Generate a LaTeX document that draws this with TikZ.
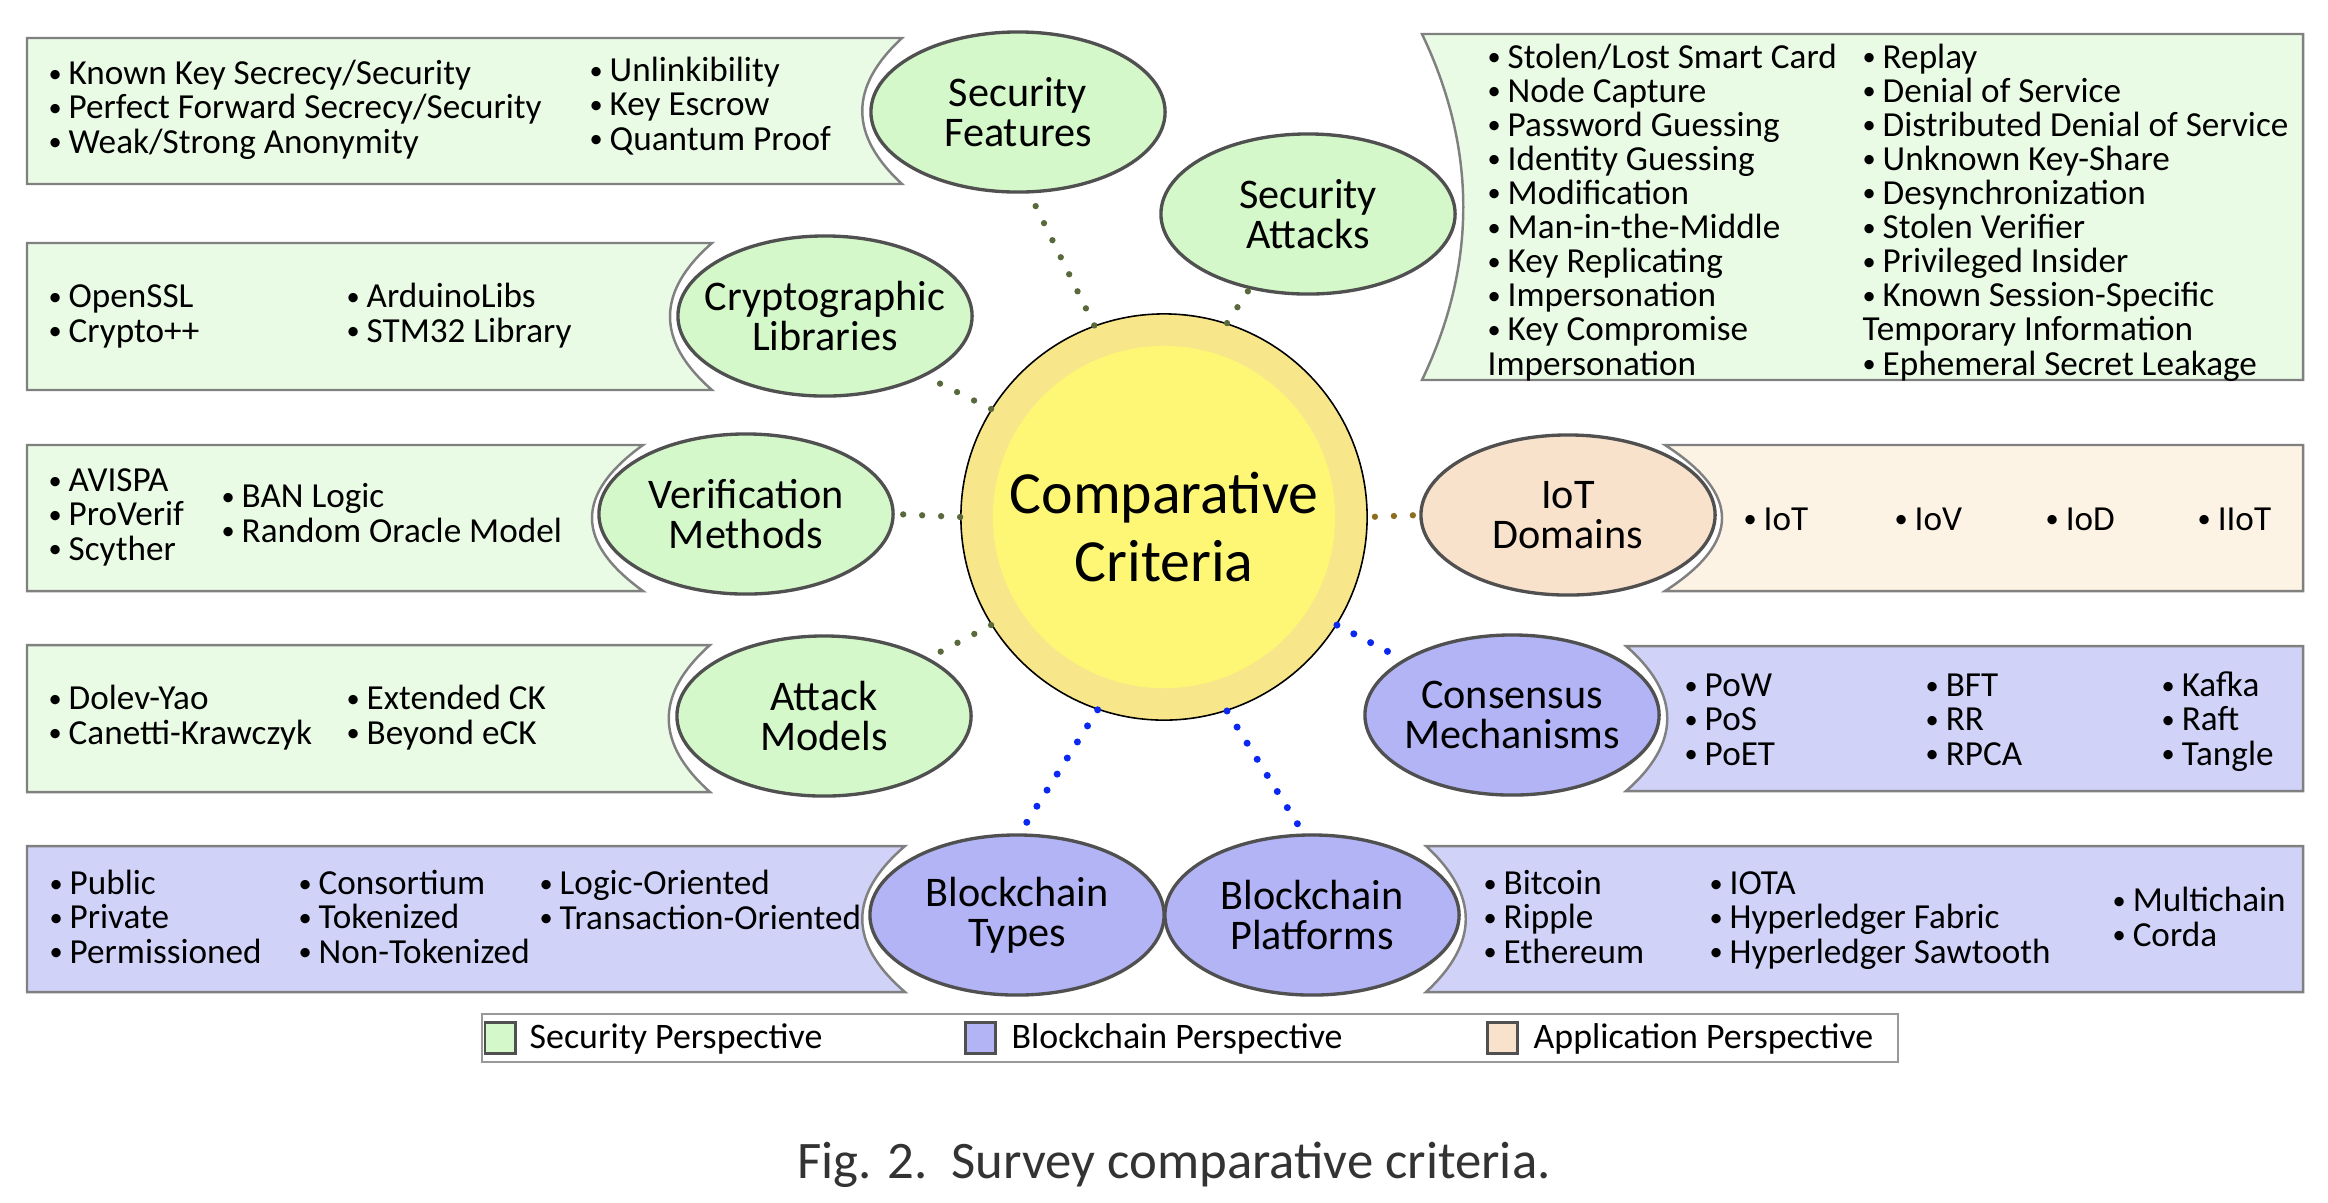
\documentclass[tikz,border=0pt]{standalone}
\usepackage{fontspec}
\setmainfont{Carlito}
\usetikzlibrary{shapes.geometric}

\definecolor{secfill}{HTML}{D4F8CA}
\definecolor{secbox}{HTML}{EAFBE5}
\definecolor{bcfill}{HTML}{B2B4F5}
\definecolor{bcbox}{HTML}{D0D2F8}
\definecolor{appfill}{HTML}{F9E2CC}
\definecolor{appbox}{HTML}{FDF3E5}
\definecolor{ringyel}{HTML}{F8E68A}
\definecolor{coreyel}{HTML}{FDF775}
\definecolor{ringgray}{HTML}{505050}
\definecolor{boxgray}{HTML}{808080}
\definecolor{secdot}{HTML}{5A693C}
\definecolor{appdot}{HTML}{8C6E1E}
\definecolor{bcdot}{HTML}{0A28F0}

\newcommand{\blt}{\makebox[0.2cm][l]{\raisebox{0.7pt}{\fontsize{7.5}{7.5}\selectfont\textbullet}}}

\begin{document}
\begin{tikzpicture}[x=0.01cm, y=-0.01cm,
	crit/.style={ellipse, draw=ringgray, line width=0.95pt, minimum width=2.94cm, minimum height=1.6cm, inner sep=0pt},
	critlbl/.style={align=center, inner sep=0pt, font=\fontsize{12}{11.4}\selectfont},
	listbox/.style={draw=boxgray, line width=0.7pt},
	items/.style={anchor=base west, align=left, inner sep=0pt, font=\fontsize{10}{9.7}\selectfont},
	link/.style={line width=1.8pt, line cap=round, dash pattern=on 0pt off 5.4pt},
	legsq/.style={draw=ringgray, line width=0.85pt, minimum width=0.3cm, minimum height=0.31cm, inner sep=0pt},
	legtxt/.style={anchor=base west, inner sep=0pt, font=\fontsize{10.2}{12}\selectfont}]
	\useasboundingbox (0,0) rectangle (2328,1202);

	% list boxes, left side
	\filldraw[listbox, fill=secbox] (27,38) -- (902,38) .. controls (849,87) and (849,135) .. (902,184) -- (27,184) -- cycle;
	\filldraw[listbox, fill=secbox] (27,243) -- (712,243) .. controls (656,292) and (656,341) .. (712,390) -- (27,390) -- cycle;
	\filldraw[listbox, fill=secbox] (27,445) -- (643,445) .. controls (575,494) and (575,542) .. (643,591) -- (27,591) -- cycle;
	\filldraw[listbox, fill=secbox] (27,645) -- (710,645) .. controls (655,694) and (655,743) .. (710,792) -- (27,792) -- cycle;
	\filldraw[listbox, fill=bcbox] (27,846) -- (905,846) .. controls (848,895) and (848,943) .. (905,992) -- (27,992) -- cycle;
	% list boxes, right side
	\filldraw[listbox, fill=secbox] (1422,34) -- (2303,34) -- (2303,380) -- (1422,380) .. controls (1477,265) and (1477,149) .. (1422,34) -- cycle;
	\filldraw[listbox, fill=appbox] (1665,445) -- (2303,445) -- (2303,591) -- (1665,591) .. controls (1741,542) and (1741,494) .. (1665,445) -- cycle;
	\filldraw[listbox, fill=bcbox] (1626,646) -- (2303,646) -- (2303,791) -- (1626,791) .. controls (1681,743) and (1681,694) .. (1626,646) -- cycle;
	\filldraw[listbox, fill=bcbox] (1426,846) -- (2303,846) -- (2303,992) -- (1426,992) .. controls (1479,943) and (1479,895) .. (1426,846) -- cycle;

	% list texts (placed at the baseline of their last line)
	\node[items] (sf-a) at (48,153) {\blt Known Key Secrecy/Security\\\blt Perfect Forward Secrecy/Security\\\blt Weak/Strong Anonymity};
	\node[items] (sf-b) at (589,150) {\blt Unlinkibility\\\blt Key Escrow\\\blt Quantum Proof};
	\node[items] (cl-a) at (48,342) {\blt OpenSSL\\\blt Crypto++};
	\node[items] (cl-b) at (346,342) {\blt ArduinoLibs\\\blt STM32 Library};
	\node[items] (vm-a) at (48,560) {\blt AVISPA\\\blt ProVerif\\\blt Scyther};
	\node[items] (vm-b) at (221,542) {\blt BAN Logic\\\blt Random Oracle Model};
	\node[items] (am-a) at (48,744) {\blt Dolev-Yao\\\blt Canetti-Krawczyk};
	\node[items] (am-b) at (346,744) {\blt Extended CK\\\blt Beyond eCK};
	\node[items] (bt-a) at (49,963) {\blt Public\\\blt Private\\\blt Permissioned};
	\node[items] (bt-b) at (298,963) {\blt Consortium\\\blt Tokenized\\\blt Non-Tokenized};
	\node[items] (bt-c) at (539,929) {\blt Logic-Oriented\\\blt Transaction-Oriented};
	\node[items] (sa-a) at (1487,375) {\blt Stolen/Lost Smart Card\\\blt Node Capture\\\blt Password Guessing\\\blt Identity Guessing\\\blt Modification\\\blt Man-in-the-Middle\\\blt Key Replicating\\\blt Impersonation\\\blt Key Compromise\\Impersonation};
	\node[items] (sa-b) at (1862,375) {\blt Replay\\\blt Denial of Service\\\blt Distributed Denial of Service\\\blt Unknown Key-Share\\\blt Desynchronization\\\blt Stolen Verifier\\\blt Privileged Insider\\\blt Known Session-Specific\\Temporary Information\\\blt Ephemeral Secret Leakage};
	\node[items] (iot-a) at (1743,530) {\blt IoT};
	\node[items] (iot-b) at (1894,530) {\blt IoV};
	\node[items] (iot-c) at (2045,530) {\blt IoD};
	\node[items] (iot-d) at (2197,530) {\blt IIoT};
	\node[items] (cm-a) at (1684,765) {\blt PoW\\\blt PoS\\\blt PoET};
	\node[items] (cm-b) at (1925,765) {\blt BFT\\\blt RR\\\blt RPCA};
	\node[items] (cm-c) at (2161,765) {\blt Kafka\\\blt Raft\\\blt Tangle};
	\node[items] (bp-a) at (1483,963) {\blt Bitcoin\\\blt Ripple\\\blt Ethereum};
	\node[items] (bp-b) at (1709,963) {\blt IOTA\\\blt Hyperledger Fabric\\\blt Hyperledger Sawtooth};
	\node[items] (bp-c) at (2112,946) {\blt Multichain\\\blt Corda};

	% criteria
	\node[crit, fill=secfill] (sf) at (1018,112) {};
	\node[crit, fill=secfill] (sa) at (1308,214) {};
	\node[crit, fill=secfill] (cl) at (825,316) {};
	\node[crit, fill=secfill] (vm) at (746,514) {};
	\node[crit, fill=secfill] (am) at (824,716) {};
	\node[crit, fill=appfill] (iot) at (1568,515) {};
	\node[crit, fill=bcfill] (cm) at (1512,715) {};
	\node[crit, fill=bcfill] (bt) at (1017,915) {};
	\node[crit, fill=bcfill] (bp) at (1312,915) {};
	\node[critlbl] (sf-l) at (sf) {Security\\Features};
	\node[critlbl] (sa-l) at (sa) {Security\\Attacks};
	\node[critlbl] (cl-l) at (cl) {Cryptographic\\Libraries};
	\node[critlbl] (vm-l) at (vm) {Verification\\Methods};
	\node[critlbl] (am-l) at (am) {Attack\\Models};
	\node[critlbl] (iot-l) at (iot) {IoT\\Domains};
	\node[critlbl] (cm-l) at (cm) {Consensus\\Mechanisms};
	\node[critlbl] (bt-l) at (bt) {Blockchain\\Types};
	\node[critlbl] (bp-l) at (bp) {Blockchain\\Platforms};

	% centre
	\node[circle, draw=black, line width=0.45pt, fill=ringyel, minimum size=4.06cm, inner sep=0pt] (cc) at (1164,517) {};
	\fill[coreyel] (cc.center) circle (1.71cm);
	\node[align=center, inner sep=0pt, font=\fontsize{17}{19.6}\selectfont] (cc-l) at (1164,527) {Comparative\\Criteria};

	% links
	\draw[link, secdot] (cc.110) -- (sf.278);
	\draw[link, secdot] (cc.72) -- (sa.232);
	\draw[link, secdot] (cc.148) -- (cl.329);
	\draw[link, secdot] (cc.180) -- (vm.0);
	\draw[link, secdot] (cc.212) -- (am.29);
	\draw[link, appdot, shorten <=0.07cm] (cc.0) -- (iot.180);
	\draw[link, bcdot, line width=2pt] (cc.328) -- (cm.153);
	\draw[link, bcdot, line width=2pt] (cc.251) -- (bt.88);
	\draw[link, bcdot, line width=2pt] (cc.288) -- (bp.96);

	% legend
	\draw[draw=boxgray!80, line width=0.6pt] (482,1014) rectangle (1898,1062);
	\node[legsq, fill=secfill] (lg-sec) at (500,1038) {};
	\node[legsq, fill=bcfill] (lg-bc) at (980,1038) {};
	\node[legsq, fill=appfill] (lg-app) at (1502,1038) {};
	\node[legtxt] (lg-sec-t) at (529,1048) {Security Perspective};
	\node[legtxt] (lg-bc-t) at (1011,1048) {Blockchain Perspective};
	\node[legtxt] (lg-app-t) at (1533,1048) {Application Perspective};

	\node[anchor=base, inner sep=0pt, text=black!80, font=\fontsize{15}{18}\selectfont] (cap) at (1174,1178) {Fig. 2.\ \ Survey comparative criteria.};
\end{tikzpicture}
\end{document}
